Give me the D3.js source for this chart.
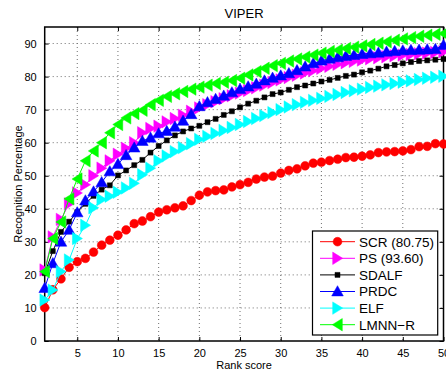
<!DOCTYPE html>
<html>
<head>
<meta charset="utf-8">
<script src="https://cdn.jsdelivr.net/npm/d3@7"></script>
<style>
  html, body { margin: 0; padding: 0; background: #fff; }
  svg { display: block; font-family: "Liberation Sans", Arial, sans-serif; }
</style>
</head>
<body>
<svg id="chart" width="446" height="374"></svg>
<script>
// Rank positions (x axis)
const ranks = [1,2,3,4,5,6,7,8,9,10,11,12,13,14,15,16,17,18,19,20,21,22,23,24,25,
               26,27,28,29,30,31,32,33,34,35,36,37,38,39,40,41,42,43,44,45,46,47,48,49,50];

// Recognition percentage per rank, one array per method
const scr = [10.1,15.5,18.8,22.3,24.0,25.0,26.9,29.0,30.5,32.0,33.6,35.5,36.3,37.6,39.0,39.7,40.3,40.9,42.5,44.1,
             45.1,45.5,45.7,46.6,47.3,48.0,49.0,49.6,49.9,50.8,51.6,52.1,53.0,53.8,54.1,54.6,55.0,55.5,55.6,55.9,
             56.3,57.0,57.2,57.3,57.5,57.9,58.8,58.9,59.7,59.6];
const ps = [21.5,31.5,36.8,41.5,44.8,47.3,50.0,52.3,54.5,56.5,58.3,60.0,63.0,64.3,65.0,66.3,67.3,68.3,69.5,70.5,
            71.5,72.4,73.3,74.2,75.0,75.8,76.6,77.4,78.2,79.0,79.7,80.4,81.1,81.8,82.5,83.1,83.7,84.2,84.6,85.0,
            85.4,85.7,86.0,86.3,86.5,86.7,86.9,87.1,87.3,87.5];
const sdalf = [20.5,27.2,33.0,36.1,39.0,41.5,43.9,45.8,47.1,50.1,51.6,53.2,54.8,57.0,59.0,60.7,62.2,63.4,64.3,65.1,
               66.2,67.2,68.4,69.5,70.7,71.8,72.7,73.7,74.7,75.2,76.0,76.8,77.3,77.9,78.5,79.0,79.6,80.2,80.6,81.3,
               81.8,82.4,83.1,83.5,84.0,84.4,84.7,84.9,85.1,85.3];
const prdc = [16.0,23.5,30.0,33.6,38.9,42.5,45.2,48.0,51.3,53.5,56.2,58.5,60.5,61.5,62.8,63.5,64.8,66.6,68.6,71.0,
              72.2,73.2,74.2,75.2,76.2,77.0,77.8,78.8,79.6,80.3,81.0,81.9,83.0,84.0,84.8,85.4,85.8,86.2,86.5,86.8,
              87.0,87.2,87.5,87.7,87.9,88.0,88.1,88.2,88.3,89.5];
const elf = [12.4,15.4,21.0,24.5,31.0,35.0,40.3,42.8,43.8,45.0,46.3,47.7,50.3,52.3,54.5,56.0,57.3,58.5,59.7,61.0,
             61.9,62.8,63.7,64.6,65.5,66.4,67.3,68.2,69.1,70.0,70.8,71.5,72.2,72.8,73.4,74.0,74.6,75.2,75.7,76.2,
             76.7,77.1,77.5,77.9,78.3,78.7,79.1,79.5,79.8,80.1];
const lmnn = [21.0,31.0,36.0,43.0,49.0,54.5,57.5,60.0,63.0,65.5,67.5,68.8,69.8,71.5,72.8,74.0,74.8,75.5,76.2,76.8,
              77.4,77.9,78.3,78.8,79.5,80.5,81.5,82.5,83.3,84.0,84.7,85.3,85.9,86.5,87.1,87.6,88.0,88.5,88.9,89.3,
              89.7,90.1,90.5,91.0,91.4,91.8,92.2,92.5,92.8,93.0];

const seriesNames = ["SCR (80.75)", "PS (93.60)", "SDALF", "PRDC", "ELF", "LMNN\u2212R"];
const seriesValues = [scr, ps, sdalf, prdc, elf, lmnn];
const seriesColors = ["#ff0000", "#ff00ff", "#000000", "#0000ff", "#00ffff", "#00ff00"];
const seriesMarkers = ["circle", "right", "square", "up", "right", "left"];

const xTicks = [5,10,15,20,25,30,35,40,45,50];
const yTicks = [0,10,20,30,40,50,60,70,80,90];

const svg = d3.select("#chart");
const W = 446, H = 374;
const plot = { left: 44.7, right: 443.5, top: 27, bottom: 341 };

svg.append("rect").attr("width", W).attr("height", H).attr("fill", "#fff");

const x = d3.scaleLinear().domain([1, 50]).range([plot.left, plot.right]);
const y = d3.scaleLinear().domain([0, 95]).range([plot.bottom, plot.top]);

// dotted grid
const grid = svg.append("g").attr("stroke", "#6e6e6e").attr("stroke-width", 1)
  .attr("stroke-dasharray", "1,3").attr("fill", "none");
xTicks.forEach(t => {
  if (t >= 50) return;
  grid.append("line").attr("x1", x(t)).attr("x2", x(t))
    .attr("y1", plot.top).attr("y2", plot.bottom);
});
yTicks.forEach(t => {
  if (t <= 0) return;
  grid.append("line").attr("y1", y(t)).attr("y2", y(t))
    .attr("x1", plot.left).attr("x2", plot.right);
});

// axes with inward ticks
const tl = 4;
const xAxisB = d3.axisBottom(x).tickValues(xTicks).tickSizeInner(-tl).tickSizeOuter(0).tickPadding(8);
const xAxisT = d3.axisTop(x).tickValues(xTicks).tickSizeInner(-tl).tickSizeOuter(0).tickFormat("");
const yAxisL = d3.axisLeft(y).tickValues(yTicks).tickSizeInner(-tl).tickSizeOuter(0).tickPadding(8);
const yAxisR = d3.axisRight(y).tickValues(yTicks).tickSizeInner(-tl).tickSizeOuter(0).tickFormat("");

function styleAxis(g) {
  g.select(".domain").remove();
  g.selectAll("line").attr("stroke", "#000").attr("stroke-width", 1);
  g.selectAll("text").attr("fill", "#000").attr("font-size", 11)
    .attr("font-family", "Liberation Sans, Arial, sans-serif");
}
svg.append("g").attr("transform", `translate(0,${plot.bottom})`).call(xAxisB).call(styleAxis);
svg.append("g").attr("transform", `translate(0,${plot.top})`).call(xAxisT).call(styleAxis);
svg.append("g").attr("transform", `translate(${plot.left},0)`).call(yAxisL).call(styleAxis);
svg.append("g").attr("transform", `translate(${plot.right},0)`).call(yAxisR).call(styleAxis);

// frame
svg.append("rect").attr("x", plot.left).attr("y", plot.top)
  .attr("width", plot.right - plot.left).attr("height", plot.bottom - plot.top)
  .attr("fill", "none").attr("stroke", "#000").attr("stroke-width", 1.5);

// marker shapes
function markerPath(kind) {
  switch (kind) {
    case "up": return "M0,-5.8L5.8,4.4L-5.8,4.4Z";
    case "right": return "M5.2,0L-4.8,-6.2L-4.8,6.2Z";
    case "left": return "M-5.2,0L4.8,-6.2L4.8,6.2Z";
    case "square": return "M-2.5,-2.5H2.5V2.5H-2.5Z";
    default: return null;
  }
}
function drawMarker(g, kind, color, cx, cy) {
  if (kind === "circle") {
    g.append("circle").attr("cx", cx).attr("cy", cy).attr("r", 4.4)
      .attr("fill", color).attr("stroke", color).attr("stroke-width", 0.5);
  } else {
    g.append("path").attr("d", markerPath(kind))
      .attr("transform", `translate(${cx},${cy})`)
      .attr("fill", color).attr("stroke", color).attr("stroke-width", 0.5);
  }
}

const line = d3.line().x((d, i) => x(ranks[i])).y(d => y(d));

const plotG = svg.append("g");
seriesValues.forEach((vals, si) => {
  const g = plotG.append("g");
  g.append("path").datum(vals).attr("d", line)
    .attr("fill", "none").attr("stroke", seriesColors[si]).attr("stroke-width", 1);
  vals.forEach((v, i) => drawMarker(g, seriesMarkers[si], seriesColors[si], x(ranks[i]), y(v)));
});

// title and axis labels
svg.append("text").attr("x", (plot.left + plot.right) / 2).attr("y", 18)
  .attr("text-anchor", "middle").attr("font-size", 13).text("VIPER");
svg.append("text").attr("x", (plot.left + plot.right) / 2).attr("y", 369)
  .attr("text-anchor", "middle").attr("font-size", 11).text("Rank score");
svg.append("text").attr("transform", `translate(22,${(plot.top + plot.bottom) / 2}) rotate(-90)`)
  .attr("text-anchor", "middle").attr("font-size", 11).text("Recognition Percentage");

// legend
const lg = svg.append("g");
const lgBox = { x: 312.5, y: 231, w: 125.2, h: 104 };
lg.append("rect").attr("x", lgBox.x).attr("y", lgBox.y).attr("width", lgBox.w).attr("height", lgBox.h)
  .attr("fill", "#fff").attr("stroke", "#000").attr("stroke-width", 1.2);
seriesNames.forEach((name, si) => {
  const cy = 241.7 + si * 16.6;
  lg.append("line").attr("x1", 320).attr("x2", 355).attr("y1", cy).attr("y2", cy)
    .attr("stroke", seriesColors[si]).attr("stroke-width", 1);
  drawMarker(lg, seriesMarkers[si], seriesColors[si], 337.5, cy);
  lg.append("text").attr("x", 359).attr("y", cy).attr("dy", "0.36em")
    .attr("font-size", 13.5).text(name);
});
</script>
</body>
</html>
